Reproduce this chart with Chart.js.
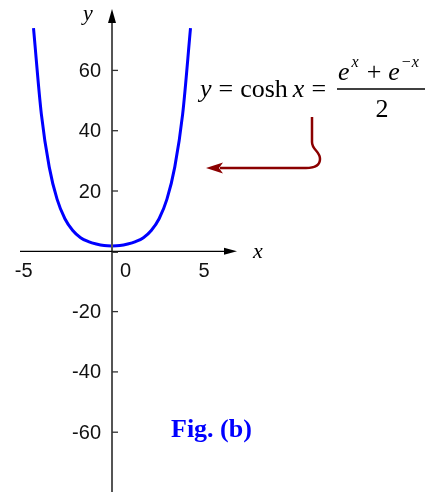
<!DOCTYPE html>
<html>
<head>
<meta charset="utf-8">
<title>cosh x</title>
<script src="https://cdn.jsdelivr.net/npm/chart.js@4/dist/chart.umd.min.js"></script>
<style>
  html, body { margin: 0; padding: 0; background: #fff; }
  #wrap { width: 428px; height: 492px; position: relative; }
</style>
</head>
<body>
<div id="wrap"><canvas id="coshChart"></canvas></div>
<script>
// y = cosh x, sampled every half unit
var xValues = [-5, -4.5, -4, -3.5, -3, -2.5, -2, -1.5, -1, -0.5, 0, 0.5, 1, 1.5, 2, 2.5, 3, 3.5, 4, 4.5, 5];
var yValues = [74, 45.5, 28, 17.3, 10.8, 6.9, 4.5, 3.2, 2.4, 1.9, 1.8, 1.9, 2.4, 3.2, 4.5, 6.9, 10.8, 17.3, 28, 45.5, 74];

var xTicks = [-5, 0, 5];
var yTicks = [60, 40, 20, -20, -40, -60];

var points = xValues.map(function (x, i) { return { x: x, y: yValues[i] }; });

var SERIF = '"Liberation Serif", "Times New Roman", serif';

// draws a row of [text, font, gapBefore, dy] pieces left to right
function drawRow(ctx, x, y, pieces) {
  pieces.forEach(function (p) {
    x += p[2] || 0;
    ctx.font = p[1];
    ctx.fillText(p[0], x, y + (p[3] || 0));
    x += ctx.measureText(p[0]).width;
  });
  return x;
}

// axes through the origin, with arrows, tick labels and the annotation
var axesPlugin = {
  id: 'axes',
  afterDatasetsDraw: function (chart) {
    var ctx = chart.ctx;
    var xs = chart.scales.x, ys = chart.scales.y;
    var ox = xs.getPixelForValue(0), oy = ys.getPixelForValue(0);
    ctx.save();

    // y axis
    ctx.strokeStyle = '#555';
    ctx.lineWidth = 2;
    ctx.beginPath();
    ctx.moveTo(ox, chart.height);
    ctx.lineTo(ox, 22);
    ctx.stroke();
    ctx.fillStyle = '#000';
    ctx.beginPath();
    ctx.moveTo(ox, 9);
    ctx.lineTo(ox - 4, 23);
    ctx.lineTo(ox + 4, 23);
    ctx.closePath();
    ctx.fill();

    // x axis
    ctx.strokeStyle = '#000';
    ctx.lineWidth = 1.3;
    ctx.beginPath();
    ctx.moveTo(20, oy);
    ctx.lineTo(225, oy);
    ctx.stroke();
    ctx.beginPath();
    ctx.moveTo(237, oy);
    ctx.lineTo(224, oy - 3.5);
    ctx.lineTo(224, oy + 3.5);
    ctx.closePath();
    ctx.fill();

    // y ticks and labels
    ctx.font = '20px "Liberation Sans", Arial, sans-serif';
    ctx.fillStyle = '#111';
    ctx.textAlign = 'right';
    ctx.textBaseline = 'middle';
    ctx.strokeStyle = '#333';
    ctx.lineWidth = 1.3;
    yTicks.concat([0]).forEach(function (v) {
      var py = ys.getPixelForValue(v) + (v === 0 ? 1 : 0);
      ctx.beginPath();
      ctx.moveTo(ox, py);
      ctx.lineTo(ox + 6, py);
      ctx.stroke();
    });
    yTicks.forEach(function (v) {
      ctx.fillText(String(v), ox - 11, ys.getPixelForValue(v) + 1);
    });

    // x tick labels
    xTicks.forEach(function (v) {
      var px = xs.getPixelForValue(v);
      if (v < 0) {
        ctx.textAlign = 'right';
        ctx.fillText(String(v), px - 1, oy + 20);
      } else {
        ctx.textAlign = 'left';
        ctx.fillText(String(v), px + 8, oy + 20);
      }
    });

    // axis names
    ctx.font = 'italic 22px ' + SERIF;
    ctx.fillStyle = '#000';
    ctx.textAlign = 'center';
    ctx.fillText('x', 258, oy + 1);
    ctx.fillText('y', 88, 14);

    // formula
    ctx.textAlign = 'left';
    ctx.textBaseline = 'alphabetic';
    var roman = '26px ' + SERIF;
    var italic = 'italic 26px ' + SERIF;
    var sup = 'italic 16px ' + SERIF;
    drawRow(ctx, 200, 97, [
      ['y', italic, 0],
      ['=', roman, 7],
      ['cosh', roman, 7],
      ['x', italic, 5],
      ['=', roman, 7]
    ]);
    drawRow(ctx, 338, 80, [
      ['e', italic, 0],
      ['x', sup, 2, -13],
      ['+', roman, 8],
      ['e', italic, 7],
      ['\u2212x', sup, 1, -13]
    ]);

    ctx.strokeStyle = '#000';
    ctx.lineWidth = 1.3;
    ctx.beginPath();
    ctx.moveTo(337, 89);
    ctx.lineTo(425, 89);
    ctx.stroke();
    ctx.font = roman;
    ctx.textAlign = 'center';
    ctx.fillText('2', 382, 117);

    // pointer arrow
    ctx.strokeStyle = '#8b0000';
    ctx.fillStyle = '#8b0000';
    ctx.lineWidth = 2.5;
    ctx.beginPath();
    ctx.moveTo(312, 117);
    ctx.lineTo(312, 142);
    ctx.bezierCurveTo(312, 150, 320, 151, 320, 159);
    ctx.bezierCurveTo(320, 166, 314, 168, 306, 168);
    ctx.lineTo(220, 168);
    ctx.stroke();
    ctx.beginPath();
    ctx.moveTo(206, 168);
    ctx.lineTo(223, 162.5);
    ctx.lineTo(219, 168);
    ctx.lineTo(223, 173.5);
    ctx.closePath();
    ctx.fill();

    // caption
    ctx.font = 'bold 26px ' + SERIF;
    ctx.fillStyle = '#0000ff';
    ctx.textAlign = 'left';
    ctx.fillText('Fig. (b)', 171, 437);

    ctx.restore();
  }
};

new Chart(document.getElementById('coshChart'), {
  type: 'line',
  data: {
    datasets: [{
      data: points,
      borderColor: '#0000ff',
      borderWidth: 3,
      pointRadius: 0,
      fill: false,
      cubicInterpolationMode: 'monotone'
    }]
  },
  options: {
    responsive: true,
    maintainAspectRatio: false,
    animation: false,
    layout: { padding: 0 },
    plugins: {
      legend: { display: false },
      tooltip: { enabled: false }
    },
    scales: {
      x: { type: 'linear', min: -7.134, max: 20.127, display: false },
      y: { type: 'linear', min: -79.83, max: 83.35, display: false }
    }
  },
  plugins: [axesPlugin]
});
</script>
</body>
</html>
